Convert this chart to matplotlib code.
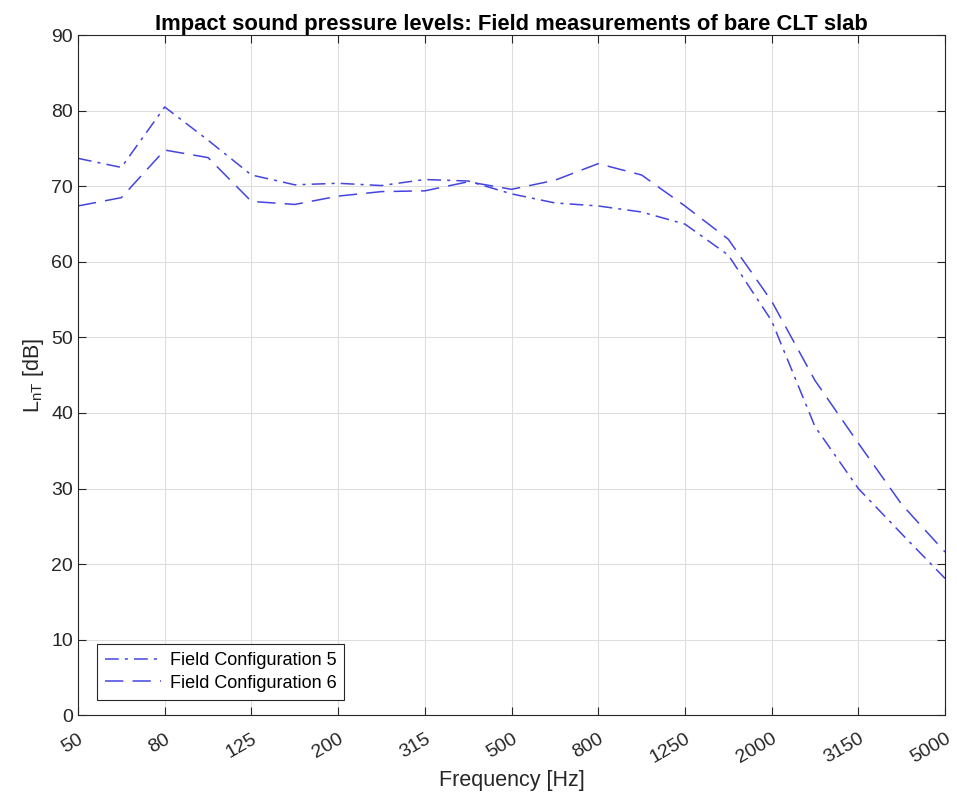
import matplotlib.pyplot as plt
import matplotlib.transforms as mtransforms
import numpy as np

plt.rcParams['font.family'] = ['Liberation Sans', 'DejaVu Sans']

# third-octave band centre frequencies
freqs = [50, 63, 80, 100, 125, 160, 200, 250, 315, 400, 500,
         630, 800, 1000, 1250, 1600, 2000, 2500, 3150, 4000, 5000]

# L_nT values
config5 = [73.7, 72.5, 80.5, 76.1, 71.5, 70.2, 70.4, 70.1, 70.9, 70.7, 69.0,
           67.8, 67.4, 66.6, 65.0, 60.9, 52.2, 38.2, 30.0, 24.0, 18.1]
config6 = [67.4, 68.5, 74.8, 73.8, 68.0, 67.6, 68.7, 69.3, 69.4, 70.6, 69.6,
           70.8, 73.0, 71.5, 67.4, 63.0, 54.8, 44.3, 36.0, 27.9, 21.6]

tick_labels = ['50', '80', '125', '200', '315', '500', '800', '1250', '2000', '3150', '5000']

x = np.arange(1, len(freqs) + 1)
col = '#4444e0'
dark = '#262626'

fig = plt.figure(figsize=(9.57, 8), dpi=100)
ax = fig.add_axes([0.0815, 0.106, 0.906, 0.850])

ax.plot(x, config5, linestyle=(0, (9, 4, 2, 4)), color=col, lw=1.1, label='Field Configuration 5')
ax.plot(x, config6, linestyle=(0, (12, 6)), color=col, lw=1.1, label='Field Configuration 6')

ax.set_xlim(1, len(freqs))
ax.set_ylim(0, 90)
ax.set_xticks(x[::2])
ax.set_xticklabels(tick_labels, rotation=30, fontsize=14, color=dark,
                   ha='right', va='top', rotation_mode='anchor')
# nudge rotated labels a little to the right, like MATLAB does
shift = mtransforms.ScaledTranslation(5 / 100, 0, fig.dpi_scale_trans)
for lab in ax.get_xticklabels():
    lab.set_transform(lab.get_transform() + shift)
ax.set_yticks(range(0, 91, 10))
ax.tick_params(axis='y', labelsize=14, labelcolor=dark)
ax.tick_params(axis='x', pad=11)
ax.tick_params(direction='in', top=True, right=True, length=6, color=dark, width=0.8)
ax.grid(True, color='#dedede', lw=0.8)
ax.set_axisbelow(True)
for s in ax.spines.values():
    s.set_color(dark)
    s.set_linewidth(0.8)

ax.set_xlabel('Frequency [Hz]', fontsize=15.5, color=dark, labelpad=2)
ax.set_ylabel(r'L$_{\mathregular{nT}}$ [dB]', fontsize=15.5, color=dark)
ax.set_title('Impact sound pressure levels: Field measurements of bare CLT slab',
             fontsize=15.8, fontweight='bold', pad=3.5)

leg = ax.legend(loc='lower left', bbox_to_anchor=(0.014, 0.012), fontsize=13,
                fancybox=False, edgecolor=dark, framealpha=1,
                handlelength=3.1, handletextpad=0.45, borderpad=0.45,
                borderaxespad=0.4, labelspacing=0.3)
leg.get_frame().set_linewidth(0.8)

fig.savefig('out.png', dpi=100)
